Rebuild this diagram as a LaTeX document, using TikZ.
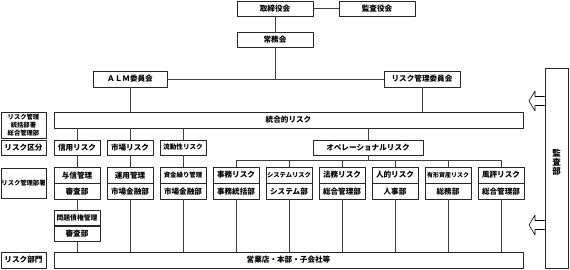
\documentclass[tikz,border=0pt]{standalone}
\usepackage{fontspec}
\setmainfont{Noto Sans CJK JP}
\usetikzlibrary{calc}

\tikzset{
  box/.style={draw=black!85, line width=0.7pt, fill=white, inner sep=0pt,
    minimum height=16pt, font=\fontsize{7.6}{8}\selectfont\bfseries},
  half/.style={box, minimum width=46pt, minimum height=15.5pt},
  small/.style={font=\fontsize{6.3}{7.8}\selectfont\bfseries},
  link/.style={draw=black!75, line width=0.6pt},
}

\begin{document}
\begin{tikzpicture}[x=1pt, y=-1pt, line join=round]
  \useasboundingbox (0,0) rectangle (570,269);

  % board and committees
  \node[box, minimum width=76pt, minimum height=15pt] (torishimari) at (275,8.5) {取締役会};
  \node[box, minimum width=76pt, minimum height=15pt] (kansayaku) at (377,8.5) {監査役会};
  \node[box, minimum width=76pt, minimum height=15pt] (jomu) at (275,39.5) {常務会};
  \node[box, minimum width=74pt] (alm) at (130,79) {ＡＬＭ委員会};
  \node[box, minimum width=76pt] (riskcom) at (422,79) {リスク管理委員会};

  \draw[link] (torishimari) -- (kansayaku);
  \draw[link] (torishimari) -- (jomu);
  \draw[link] (alm) -- (riskcom);
  \draw[link] (jomu) -- (jomu |- alm);

  % integrated risk
  \node[box, minimum width=469pt] (togo) at (288.5,120) {統合的リスク};
  \draw[link] (alm) -- (alm |- togo.north);
  \draw[link] (riskcom) -- (riskcom |- togo.north);

  % row labels on the left
  \node[box, small, minimum width=45pt, minimum height=26pt, align=center] (lbltogo) at (23.5,125) {リスク管理\\統括部署\\総合管理部};
  \node[box, minimum width=45pt, minimum height=15pt] (lblkubun) at (23.5,147.5) {リスク区分};
  \node[box, small, minimum width=45pt, minimum height=30pt] (lblbusho) at (23.5,183) {リスク管理部署};
  \node[box, minimum width=45pt] (lblbumon) at (23.5,260) {リスク部門};

  % risk categories
  \node[box, minimum width=46pt, minimum height=15pt] (shinyo) at (77,147.5) {信用リスク};
  \node[box, minimum width=46pt, minimum height=15pt] (shijo) at (130,147.5) {市場リスク};
  \node[box, minimum width=46pt, minimum height=15pt, font=\fontsize{6.6}{8}\selectfont\bfseries] (ryudo) at (183,147.5) {流動性リスク};
  \node[box, minimum width=110pt, minimum height=15pt] (ope) at (368,147.5) {オペレーショナルリスク};
  \foreach \c in {shinyo, shijo, ryudo, ope}
    \draw[link] (\c |- togo.south) -- (\c);

  % managing departments, two rows each
  \foreach \i/\nm/\ta/\tb/\fa in {0/yoshin/与信管理/審査部/7.6,
      1/unyo/運用管理/市場金融部/7.6, 2/shikin/資金繰り管理/市場金融部/6.4,
      3/jimu/事務リスク/事務統括部/7.6, 4/system/システムリスク/システム部/6.3,
      5/homu/法務リスク/総合管理部/7.6, 6/jinteki/人的リスク/人事部/7.6,
      7/yukei/有形資産リスク/総務部/6.0, 8/fuhyo/風評リスク/総合管理部/7.6} {
    \node[half, anchor=north, font=\fontsize{\fa}{8}\selectfont\bfseries] (\nm) at ({77+53*\i},167) {\ta};
    \node[half, anchor=north] (\nm2) at (\nm.south) {\tb};
  }

  % problem loans
  \node[half, anchor=north, font=\fontsize{6.8}{8}\selectfont\bfseries] (mondai) at (77,209.5) {問題債権管理};
  \node[half, anchor=north] (mondai2) at (mondai.south) {審査部};
  \draw[link] (yoshin2) -- (mondai);
  \draw[link] (shinyo) -- (yoshin);
  \draw[link] (shijo) -- (unyo);
  \draw[link] (ryudo) -- (shikin);

  % operational risk bracket
  \coordinate (brk) at (368,160);
  \draw[link] (ope) -- (brk);
  \draw[link] (jimu.north) |- (fuhyo.north |- brk) -- (fuhyo.north);
  \foreach \nm in {system, homu, jinteki, yukei}
    \draw[link] (\nm.north) -- (\nm.north |- brk);

  % branches
  \node[box, minimum width=469pt] (eigyo) at (288.5,260) {営業店・本部・子会社等};
  \draw[link] (mondai2) -- (mondai2 |- eigyo.north);
  \foreach \nm in {unyo, shikin, jimu, system, homu, jinteki, yukei, fuhyo}
    \draw[link] (\nm2) -- (\nm2 |- eigyo.north);

  % audit
  \node[box, minimum width=23pt, minimum height=200pt] (kansa) at (556.5,168) {};
  \node[align=center, inner sep=0pt, font=\fontsize{8.5}{9.2}\selectfont\bfseries] (kansatxt) at (556.5,162) {監\\査\\部};
  \foreach \yc in {101,225}
    \draw[line width=0.6pt, fill=white] (kansa.west |- 0,\yc-4.5) -- (535,\yc-4.5) -- (535,\yc-10)
      -- (529,\yc) -- (535,\yc+10) -- (535,\yc+4.5) -- (kansa.west |- 0,\yc+4.5);
\end{tikzpicture}
\end{document}
